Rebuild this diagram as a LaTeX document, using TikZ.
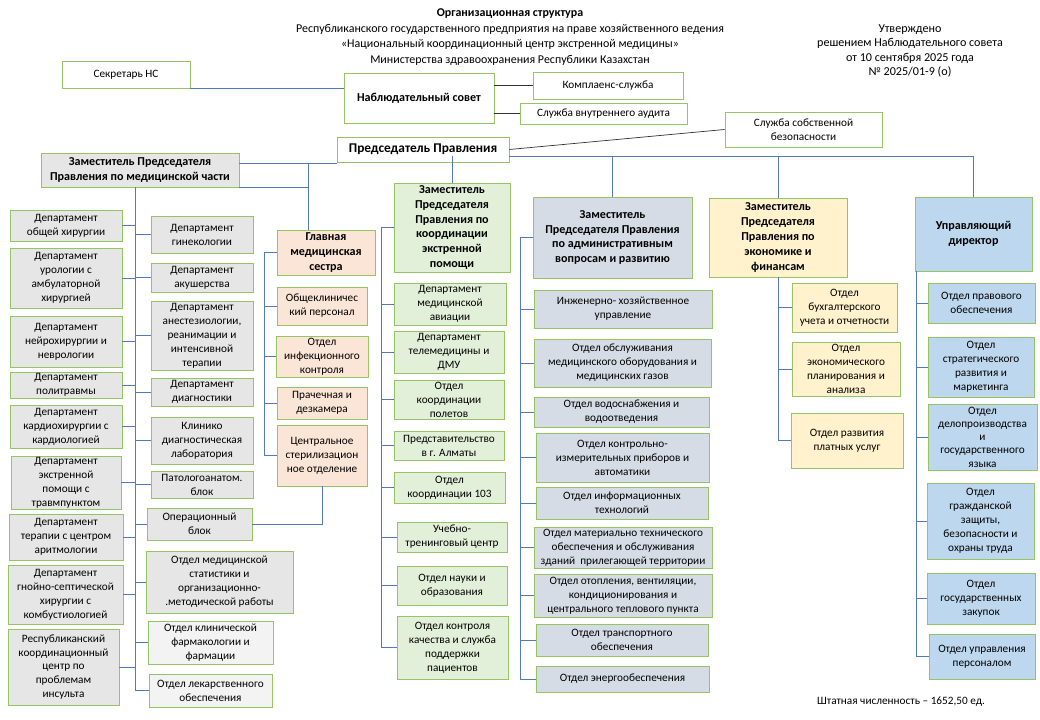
\documentclass[tikz,border=0pt]{standalone}
\usepackage{fontspec}
\setmainfont{Carlito}
\usetikzlibrary{calc}
\definecolor{edgegreen}{RGB}{150,195,100}
\definecolor{linkblue}{RGB}{84,120,190}
\definecolor{greyfill}{RGB}{231,230,230}
\definecolor{palegrey}{RGB}{243,243,243}
\definecolor{peach}{RGB}{251,229,214}
\definecolor{mint}{RGB}{226,240,217}
\definecolor{slate}{RGB}{214,220,229}
\definecolor{cream}{RGB}{255,242,204}
\definecolor{sky}{RGB}{189,215,238}
\newcommand{\boxfont}{\fontsize{8}{9.9}\selectfont}
\tikzset{
	box/.style={draw=edgegreen, line width=0.6pt, align=center, inner sep=0.8pt, font=\boxfont},
	wh/.style 2 args={minimum width=#1*0.025cm, minimum height=#2*0.025cm},
	heavy/.style={font=\fontsize{8.6}{10.6}\selectfont\bfseries},
	conn/.style={draw=linkblue, line width=0.6pt},
	blk/.style={draw=black!80, line width=0.5pt},
}

\begin{document}
\begin{tikzpicture}[x=0.025cm, y=-0.025cm]
		%%%%% START %%%%%
		\useasboundingbox (0,0) rectangle (1040,720);
		\fill[white] (0,0) rectangle (1040,720);
		
		\node[align=center, font=\fontsize{8.5}{11}\selectfont] (title) at (510,37) {\textbf{Организационная структура}\\Республиканского государственного предприятия на праве хозяйственного ведения\\«Национальный координационный центр экстренной медицины»\\Министерства здравоохранения Республики Казахстан};
		\node[align=center, font=\fontsize{8.6}{10.2}\selectfont] (approved) at (910,51) {Утверждено\\решением Наблюдательного совета\\от 10 сентября 2025 года\\№ 2025/01-9 (о)};
		
		\node[box, wh={128}{27}] (sek) at (126,74.5) {Секретарь НС};
		\node[box, heavy, wh={150}{50}] (ns) at (419,98) {Наблюдательный совет};
		\node[box, wh={150}{27}] (kompl) at (608,85.5) {Комплаенс-служба};
		\node[box, wh={167}{21}] (audit) at (603.5,113.5) {Служба внутреннего аудита};
		\node[box, font=\fontsize{9.5}{10}\selectfont\bfseries, wh={172}{25}] (pp) at (423,149.5) {Председатель Правления};
		\node[box, wh={157}{35}] (ssb) at (803.5,129.5) {Служба собственной\\безопасности};
		
		\draw[conn] (sek.south east) -- (sek.south east -| ns.west);
		\draw[blk] (ns.east |- kompl.west) -- (kompl.west);
		\draw[blk] (ns.east |- audit.west) -- (audit.west);
		\draw[blk] (pp.east) -- (ssb.west);
		
		% deputies
		\node[box, heavy, fill=greyfill, wh={198}{34}] (zm) at (140,170) {Заместитель Председателя\\Правления по медицинской части};
		\node[box, heavy, fill=mint, wh={116}{89}] (kor) at (452,227.5) {Заместитель\\Председателя\\Правления по\\координации\\экстренной\\помощи};
		\node[box, heavy, fill=slate, wh={159}{81}] (adm) at (612.5,237.5) {Заместитель\\Председателя Правления\\по административным\\вопросам и развитию};
		\node[box, heavy, fill=cream, wh={138}{79}] (eco) at (778,237.5) {Заместитель\\Председателя\\Правления по\\экономике и\\финансам};
		\node[box, heavy, fill=sky, wh={117}{74}] (ud) at (973.5,234) {Управляющий\\директор};
		
		\coordinate (hb) at (973.5,156);
		\draw[conn] (pp.east |- hb) -- (hb) -- (ud.north);
		\foreach \n in {kor,adm,eco}
			\draw[conn] (\n.north) -- (\n.north |- hb);
		\coordinate (zmj) at (308,163);
		\draw[conn] (pp.west |- zmj) -- (zm.east |- zmj);
		\draw[conn] (zm.south east) -- (zm.south east -| zmj);
		
		% medical part, left column
		\node[box, fill=greyfill, wh={112}{31}] (hir) at (66,225.5) {Департамент\\общей хирургии};
		\node[box, fill=greyfill, wh={112}{60}] (uro) at (66,278) {Департамент\\урологии с\\амбулаторной\\хирургией};
		\node[box, fill=greyfill, wh={112}{51}] (neiro) at (66,341.5) {Департамент\\нейрохирургии и\\неврологии};
		\node[box, fill=greyfill, wh={112}{26}] (polit) at (66,385) {Департамент\\политравмы};
		\node[box, fill=greyfill, wh={112}{43}] (kard) at (66,426.5) {Департамент\\кардиохирургии с\\кардиологией};
		\node[box, fill=greyfill, wh={110}{51}] (ekstr) at (66,482.5) {Департамент\\экстренной\\помощи с\\травмпунктом};
		\node[box, fill=greyfill, wh={114}{46}] (ter) at (66,537) {Департамент\\терапии с центром\\аритмологии};
		\node[box, fill=greyfill, wh={115}{59}] (gnoi) at (65.5,594.5) {Департамент\\гнойно-септической\\хирургии с\\комбустиологией};
		\node[box, fill=greyfill, wh={111}{76}] (insult) at (63.5,667) {Республиканский\\координационный\\центр по\\проблемам\\инсульта};
		
		% medical part, right column
		\node[box, fill=greyfill, wh={102}{37}] (gin) at (202,234.5) {Департамент\\гинекологии};
		\node[box, fill=greyfill, wh={102}{29}] (akush) at (202,277.5) {Департамент\\акушерства};
		\node[box, fill=greyfill, wh={102}{69}] (anest) at (202,335.5) {Департамент\\анестезиологии,\\реанимации и\\интенсивной\\терапии};
		\node[box, fill=greyfill, wh={102}{28}] (diagn) at (202,392) {Департамент\\диагностики};
		\node[box, fill=greyfill, wh={102}{47}] (kdl) at (202,440.5) {Клинико\\диагностическая\\лаборатория};
		\node[box, fill=greyfill, wh={102}{27}] (pat) at (202,484.5) {Патологоанатом.\\блок};
		\node[box, fill=greyfill, wh={105}{32}] (opb) at (199.5,524) {Операционный\\блок};
		\node[box, fill=greyfill, wh={147}{62}] (stat) at (219.5,582) {Отдел медицинской\\статистики и\\организационно-\\.методической работы};
		\node[box, fill=palegrey, wh={125}{43}] (farm) at (210.5,642.5) {Отдел клинической\\фармакологии и\\фармации};
		\node[box, fill=palegrey, wh={123}{33}] (lek) at (210.5,690.5) {Отдел лекарственного\\обеспечения};
		
		\coordinate (lsp) at (135,187);
		\draw[conn] (lsp) -- (lsp |- lek.west);
		\foreach \n in {hir,uro,neiro,polit,kard,ekstr,ter,gnoi,insult}
			\draw[conn] (\n.east) -- (\n.east -| lsp);
		\foreach \n in {gin,akush,anest,diagn,kdl,pat,opb,stat,farm,lek}
			\draw[conn] (\n.west) -- (\n.west -| lsp);
		
		% head nurse
		\node[box, heavy, fill=peach, wh={98}{45}] (gms) at (326,252.5) {Главная\\медицинская\\сестра};
		\node[box, fill=peach, wh={90}{38}] (okp) at (322,306) {Общеклиничес\\кий персонал};
		\node[box, fill=peach, wh={92}{41}] (ink) at (322,356.5) {Отдел\\инфекционного\\контроля};
		\node[box, fill=peach, wh={90}{32}] (prach) at (322,403) {Прачечная и\\дезкамера};
		\node[box, fill=peach, wh={90}{61}] (csot) at (322,455.5) {Центральное\\стерилизацион\\ное отделение};
		
		\draw[conn] (zmj) -- (zmj |- gms.north);
		\coordinate (gsp) at (264,0);
		\draw[conn] (gms.west) -- (gms.west -| gsp) -- (gsp |- csot.west);
		\foreach \n in {okp,ink,prach,csot}
			\draw[conn] (\n.west) -- (\n.west -| gsp);
		\draw[conn] (opb.east) -- (opb.east -| csot.south) -- (csot.south);
		
		% emergency coordination
		\node[box, fill=mint, wh={112}{42}] (avia) at (450,304) {Департамент\\медицинской\\авиации};
		\node[box, fill=mint, wh={110}{42}] (tele) at (449,352) {Департамент\\телемедицины и\\ДМУ};
		\node[box, fill=mint, wh={110}{39}] (polet) at (449,399.5) {Отдел\\координации\\полетов};
		\node[box, fill=mint, wh={110}{29}] (almaty) at (449,445.5) {Представительство\\в г. Алматы};
		\node[box, fill=mint, wh={111}{31}] (k103) at (449.5,487.5) {Отдел\\координации 103};
		\node[box, fill=mint, wh={110}{30}] (utc) at (452,537) {Учебно-\\тренинговый центр};
		\node[box, fill=mint, wh={110}{39}] (nauka) at (452,585.5) {Отдел науки и\\образования};
		\node[box, fill=mint, wh={111}{63}] (kkp) at (452.5,647.5) {Отдел контроля\\качества и служба\\поддержки\\пациентов};
		
		\coordinate (ksp) at (381,0);
		\draw[conn] (kor.west) -- (kor.west -| ksp) -- (ksp |- kkp.west);
		\foreach \n in {avia,tele,polet,almaty,k103,utc,nauka,kkp}
			\draw[conn] (\n.west) -- (\n.west -| ksp);
		
		% administration
		\node[box, fill=slate, wh={178}{38}] (ihu) at (623,309) {Инженерно- хозяйственное\\управление};
		\node[box, fill=slate, wh={177}{48}] (obsl) at (622.5,363) {Отдел обслуживания\\медицинского оборудования и\\медицинских газов};
		\node[box, fill=slate, wh={175}{30}] (voda) at (621.5,412) {Отдел водоснабжения и\\водоотведения};
		\node[box, fill=slate, wh={173}{49}] (kip) at (622.5,457.5) {Отдел контрольно-\\измерительных приборов и\\автоматики};
		\node[box, fill=slate, wh={172}{32}] (it) at (622,503) {Отдел информационных\\технологий};
		\node[box, fill=slate, wh={178}{41}] (mto) at (623,547.5) {Отдел материально технического\\обеспечения и обслуживания\\зданий\ \ прилегающей территории};
		\node[box, fill=slate, wh={178}{43}] (otop) at (623,595.5) {Отдел отопления, вентиляции,\\кондиционирования и\\центрального теплового пункта};
		\node[box, fill=slate, wh={172}{32}] (trans) at (622,640) {Отдел транспортного\\обеспечения};
		\node[box, fill=slate, wh={173}{26}] (energ) at (622.5,679) {Отдел энергообеспечения};
		
		\coordinate (asp) at (520,0);
		\draw[conn] (adm.west) -- (adm.west -| asp) -- (asp |- energ.west);
		\foreach \n in {ihu,obsl,voda,kip,it,mto,otop,trans,energ}
			\draw[conn] (\n.west) -- (\n.west -| asp);
		
		% economy
		\node[box, fill=cream, wh={105}{49}] (buh) at (844.5,307.5) {Отдел\\бухгалтерского\\учета и отчетности};
		\node[box, fill=cream, wh={108}{54}] (ekp) at (846,369) {Отдел\\экономического\\планирования и\\анализа};
		\node[box, fill=cream, wh={112}{55}] (plat) at (847,440.5) {Отдел развития\\платных услуг};
		
		\draw[conn] (eco.south) -- (eco.south |- plat.west);
		\foreach \n in {buh,ekp,plat}
			\draw[conn] (\n.west) -- (\n.west -| eco.south);
		
		% managing director
		\node[box, fill=sky, wh={107}{40}] (prav) at (981.5,303) {Отдел правового\\обеспечения};
		\node[box, fill=sky, wh={106}{60}] (strat) at (981,367) {Отдел\\стратегического\\развития и\\маркетинга};
		\node[box, fill=sky, wh={109}{66}, font=\fontsize{8}{9.4}\selectfont] (delo) at (982.5,437) {Отдел\\делопроизводства\\и\\государственного\\языка};
		\node[box, fill=sky, wh={107}{76}] (gzo) at (980.5,521) {Отдел\\гражданской\\защиты,\\безопасности и\\охраны труда};
		\node[box, fill=sky, wh={108}{51}] (zak) at (981,598.5) {Отдел\\государственных\\закупок};
		\node[box, fill=sky, wh={106}{45}] (oup) at (982,656.5) {Отдел управления\\персоналом};
		
		\coordinate (usp) at (916,0);
		\draw[conn] (ud.south -| usp) -- (usp |- oup.west);
		\foreach \n in {prav,strat,delo,gzo,zak,oup}
			\draw[conn] (\n.west) -- (\n.west -| usp);
		
		\node[font=\boxfont] (staff) at (901,702) {Штатная численность – 1652,50 ед.};
		%%%%% END %%%%%
	\end{tikzpicture}
\end{document}
